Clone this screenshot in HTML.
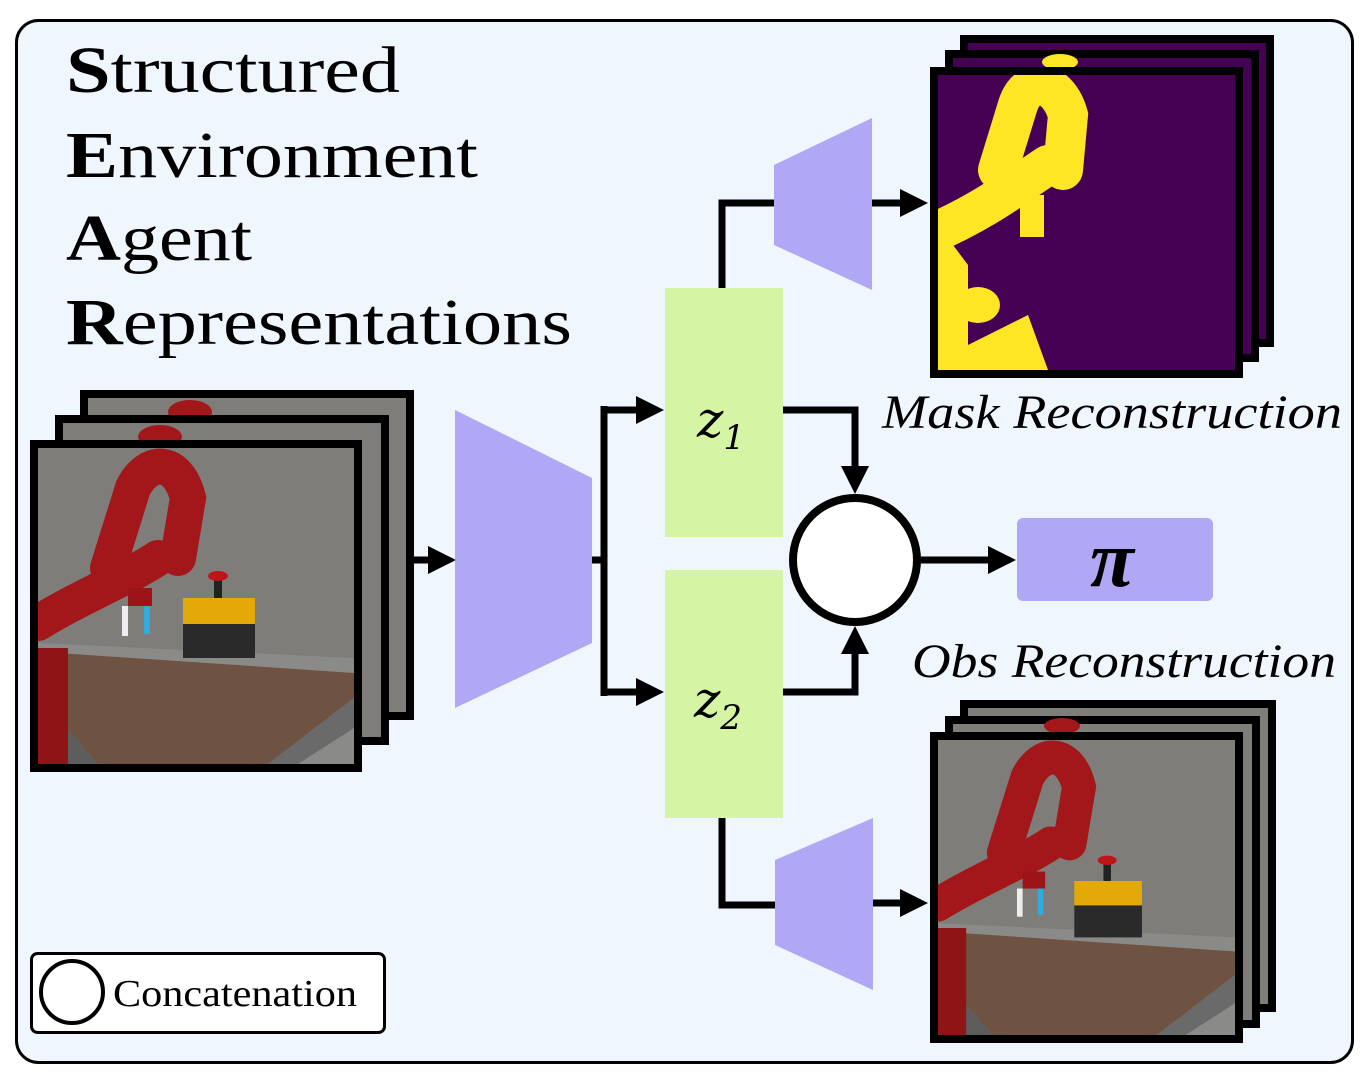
<!DOCTYPE html>
<html><head><style>
html,body{margin:0;padding:0;background:#fff;}
svg{display:block;}
</style></head><body>
<svg width="1364" height="1079" viewBox="0 0 1364 1079" xmlns="http://www.w3.org/2000/svg">
<defs>
<clipPath id="c1"><rect x="38" y="448" width="316" height="316"/></clipPath>
<clipPath id="c2"><rect x="938" y="740" width="297" height="295"/></clipPath>
<clipPath id="c3"><rect x="938" y="75" width="297" height="295"/></clipPath>
<g id="scene">
  <rect x="0" y="0" width="316" height="316" fill="#7e7d79"/>
  <polygon points="0,195 316,210 316,316 0,316" fill="#8a8a88"/>
  <polygon points="20,205 316,225 316,250 230,316 60,316 10,260" fill="#6e5242"/>
  <polygon points="10,260 60,316 0,316 0,280" fill="#5d5d5d"/>
  <polygon points="230,316 316,250 316,280 260,316" fill="#6a6a6a"/>
  <path d="M0,175 C40,150 90,130 120,110 M70,120 L95,40 C110,10 140,10 150,50 L140,110" stroke="#a3161a" stroke-width="36" fill="none" stroke-linecap="round"/>
  <path d="M0,200 L0,316" stroke="#8e1416" stroke-width="60"/>
  <rect x="90" y="140" width="24" height="18" fill="#9c1418"/>
  <rect x="84" y="158" width="6" height="30" fill="#eee"/>
  <rect x="106" y="158" width="6" height="28" fill="#3ad"/>
  <rect x="145" y="150" width="72" height="26" fill="#e3a908"/>
  <rect x="145" y="176" width="72" height="34" fill="#2a2a2a"/>
  <rect x="176" y="128" width="8" height="22" fill="#222"/>
  <ellipse cx="180" cy="128" rx="10" ry="5" fill="#c01418"/>
</g>
<g id="mask">
  <rect x="0" y="0" width="297" height="295" fill="#440154"/>
  <path d="M-10,160 C40,140 80,110 110,90 M60,95 L80,30 C90,0 120,5 130,40 L125,95" stroke="#fde725" stroke-width="40" fill="none" stroke-linecap="round"/>
  <rect x="82" y="120" width="24" height="42" fill="#fde725"/>
  <polygon points="0,150 30,190 30,295 0,295" fill="#fde725"/>
  <ellipse cx="40" cy="230" rx="22" ry="18" fill="#fde725"/>
  <polygon points="0,270 90,270 105,295 0,295" fill="#fde725"/>
  <polygon points="30,270 90,240 110,295 30,295" fill="#fde725"/>
</g>
</defs>
<rect x="16.5" y="20.5" width="1336" height="1042" rx="22" fill="#eff6fe" stroke="#000" stroke-width="3"/>
<g font-family="'Liberation Serif',serif" font-size="66" fill="#000">
<text x="66" y="92" textLength="334" lengthAdjust="spacingAndGlyphs"><tspan font-weight="bold">S</tspan>tructured</text>
<text x="66" y="177" textLength="412" lengthAdjust="spacingAndGlyphs"><tspan font-weight="bold">E</tspan>nvironment</text>
<text x="66" y="260" textLength="186" lengthAdjust="spacingAndGlyphs"><tspan font-weight="bold">A</tspan>gent</text>
<text x="66" y="344" textLength="506" lengthAdjust="spacingAndGlyphs"><tspan font-weight="bold">R</tspan>epresentations</text>
</g>
<rect x="84" y="394" width="326" height="322" fill="#7e7d79" stroke="#000" stroke-width="8"/>
<ellipse cx="190" cy="412" rx="22" ry="12" fill="#a3161a"/>
<rect x="59" y="419" width="326" height="322" fill="#7e7d79" stroke="#000" stroke-width="8"/>
<ellipse cx="160" cy="437" rx="22" ry="12" fill="#a3161a"/>
<rect x="34" y="444" width="324" height="324" fill="#7e7d79" stroke="#000" stroke-width="8"/>
<g clip-path="url(#c1)"><use href="#scene" transform="translate(38,448)"/></g>
<rect x="34" y="444" width="324" height="324" fill="none" stroke="#000" stroke-width="8"/>
<line x1="414" y1="560" x2="432" y2="560" stroke="#000" stroke-width="7"/>
<polygon points="428,546 456,560 428,574" fill="#000"/>
<polygon points="455,410 592,478 592,643 455,708" fill="#b0a8f5"/>
<path d="M592,560 H604 M604,406 V696 M601,410 H640 M601,692 H640" stroke="#000" stroke-width="7" fill="none"/>
<polygon points="636,396 664,410 636,424" fill="#000"/>
<polygon points="636,678 664,692 636,706" fill="#000"/>
<rect x="665" y="288" width="118" height="249" fill="#d5f5a5"/>
<rect x="665" y="570" width="118" height="248" fill="#d5f5a5"/>
<g font-family="'DejaVu Serif',serif" font-style="italic" font-size="50">
<text x="697" y="437">z<tspan font-size="34" dy="12">1</tspan></text>
<text x="694" y="717">z<tspan font-size="34" dy="12">2</tspan></text>
</g>
<path d="M722,288 V203 H776 M872,203 H905" stroke="#000" stroke-width="7" fill="none"/>
<polygon points="774,165 872,118 872,290 774,245" fill="#b0a8f5"/>
<polygon points="900,189 928,203 900,217" fill="#000"/>
<rect x="964" y="39" width="306" height="304" fill="#440154" stroke="#000" stroke-width="8"/>
<rect x="949" y="54" width="306" height="304" fill="#440154" stroke="#000" stroke-width="8"/>
<ellipse cx="1060" cy="62" rx="18" ry="8" fill="#fde725"/>
<rect x="934" y="71" width="305" height="303" fill="#440154" stroke="#000" stroke-width="8"/>
<g clip-path="url(#c3)"><use href="#mask" transform="translate(938,75)"/></g>
<rect x="934" y="71" width="305" height="303" fill="none" stroke="#000" stroke-width="8"/>
<g font-family="'Liberation Serif',serif" font-style="italic" font-size="48" fill="#000">
<text x="882" y="428" textLength="460" lengthAdjust="spacingAndGlyphs">Mask Reconstruction</text>
<text x="912" y="677" textLength="424" lengthAdjust="spacingAndGlyphs">Obs Reconstruction</text>
</g>
<path d="M783,410 H855 V470 M783,692 H855 V650" stroke="#000" stroke-width="7" fill="none"/>
<polygon points="841,466 855,494 869,466" fill="#000"/>
<polygon points="841,654 855,626 869,654" fill="#000"/>
<circle cx="855" cy="560" r="62" fill="#fff" stroke="#000" stroke-width="8"/>
<line x1="917" y1="560" x2="992" y2="560" stroke="#000" stroke-width="7"/>
<polygon points="988,546 1016,560 988,574" fill="#000"/>
<rect x="1017" y="518" width="196" height="83" rx="6" fill="#b0a8f5"/>
<text x="1112" y="586" text-anchor="middle" font-family="'Liberation Serif',serif" font-style="italic" font-weight="bold" font-size="80">π</text>
<path d="M722,818 V905 H776 M873,903 H905" stroke="#000" stroke-width="7" fill="none"/>
<polygon points="775,860 873,818 873,990 775,945" fill="#b0a8f5"/>
<polygon points="900,889 928,903 900,917" fill="#000"/>
<rect x="964" y="704" width="308" height="304" fill="#7e7d79" stroke="#000" stroke-width="8"/>
<rect x="949" y="720" width="307" height="304" fill="#7e7d79" stroke="#000" stroke-width="8"/>
<ellipse cx="1062" cy="726" rx="18" ry="8" fill="#a3161a"/>
<rect x="934" y="736" width="305" height="303" fill="#7e7d79" stroke="#000" stroke-width="8"/>
<g clip-path="url(#c2)"><use href="#scene" transform="translate(938,740) scale(0.94)"/></g>
<rect x="934" y="736" width="305" height="303" fill="none" stroke="#000" stroke-width="8"/>
<rect x="31.5" y="953.5" width="353" height="79" rx="6" fill="#fff" stroke="#000" stroke-width="3"/>
<circle cx="72" cy="992" r="31" fill="#fff" stroke="#000" stroke-width="4"/>
<text x="113" y="1006" font-family="'Liberation Serif',serif" font-size="38" textLength="244" lengthAdjust="spacingAndGlyphs">Concatenation</text>
</svg>
</body></html>
